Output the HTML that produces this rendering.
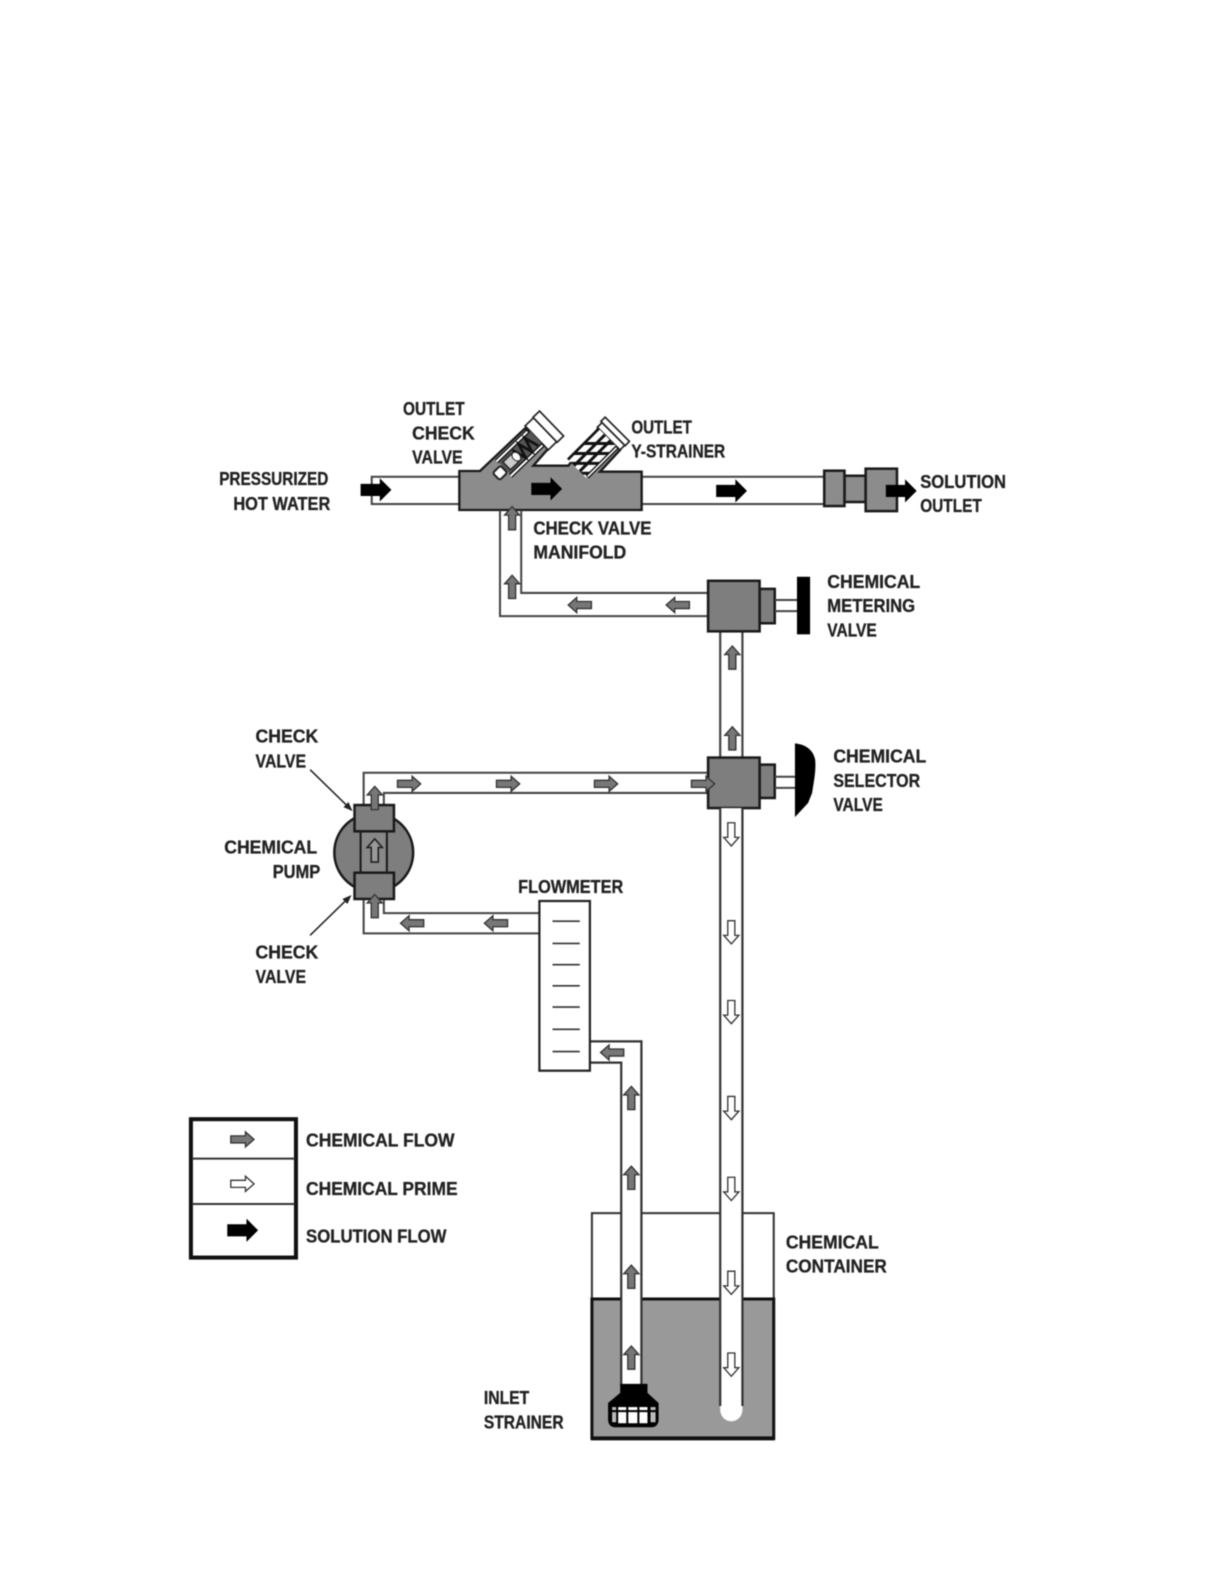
<!DOCTYPE html>
<html>
<head>
<meta charset="utf-8">
<style>
html,body{margin:0;padding:0;background:#fff;width:1224px;height:1584px;overflow:hidden}
svg{display:block;filter:blur(0.45px)}
text{font-family:"Liberation Sans",sans-serif;font-weight:bold;font-size:18px;fill:#222;stroke:#222;stroke-width:.3}
</style>
</head>
<body>
<svg xmlns="http://www.w3.org/2000/svg" width="1224" height="1584" viewBox="0 0 1224 1584">
<defs>
<path id="g" d="M-11.5,-3.5H3V-7.5L11.5,0L3,7.5V3.5H-11.5Z" fill="#777" stroke="#333" stroke-width="1.3"/>
<path id="w" d="M-11.5,-3.5H3V-7.5L11.5,0L3,7.5V3.5H-11.5Z" fill="#fff" stroke="#333" stroke-width="1.3"/>
<path id="p" d="M-11.5,-3.5H3V-7.5L11.5,0L3,7.5V3.5H-11.5Z" fill="#999" stroke="#222" stroke-width="1.6"/>
<path id="b" d="M-15,-6H4V-11.5L15.5,0L4,11.5V6H-15Z" fill="#000"/>
<clipPath id="c2"><rect x="0" y="-42" width="131" height="80"/></clipPath>
</defs>

<g transform="scale(1.0101)">
<!-- top pipes -->
<g fill="#fff" stroke="#444" stroke-width="2">
<rect x="368" y="472" width="90" height="27"/>
<rect x="634" y="472" width="184" height="27"/>
</g>
</g>

<!-- manifold and angled valves -->
<g transform="translate(350,390) scale(.33333)">
<path d="M328,243H390L525,115L600,170L550,227H655L745,115L810,180L750,245H875V360H328Z" fill="#8c8c8c" stroke="#1a1a1a" stroke-width="7"/>
<!-- outlet check valve -->
<g transform="translate(450,250) rotate(-44)">
<rect x="153" y="-50" width="35" height="100" fill="#fff" stroke="#222" stroke-width="5"/>
<rect x="188" y="-52" width="27" height="104" fill="#fff" stroke="#222" stroke-width="5"/>
<rect x="20" y="-30" width="133" height="56" fill="#555"/>
<path d="M17,-33H150M17,28H155" stroke="#111" stroke-width="14" fill="none"/>
<path d="M17,-33H146M17,28H150" stroke="#fff" stroke-width="6" fill="none"/>
<path d="M75,-24L88,20L101,-24L114,20L127,-24L140,20" fill="none" stroke="#111" stroke-width="8"/>
<rect x="30" y="-18" width="34" height="32" fill="#ccc" stroke="#222" stroke-width="4"/>
<ellipse cx="70" cy="-2" rx="11" ry="15" fill="#fff" stroke="#222" stroke-width="3"/>
<rect x="-15" y="-16" width="32" height="30" rx="7" fill="#fff" stroke="#222" stroke-width="6"/>
</g>
<!-- y strainer -->
<g transform="translate(682,237) rotate(-45)">
<rect x="131" y="-46" width="20" height="96" fill="#fff" stroke="#222" stroke-width="5"/>
<rect x="151" y="-51" width="18" height="103" fill="#fff" stroke="#222" stroke-width="5"/>
<rect x="0" y="-42" width="131" height="80" fill="#fff"/>
<g clip-path="url(#c2)">
<path d="M-60,-42L22,40M-18,-42L64,40M24,-42L106,40M66,-42L148,40M0,-14H131M0,10H131" fill="none" stroke="#111" stroke-width="9"/>
</g>
<path d="M0,-40H131" stroke="#111" stroke-width="8" fill="none"/>
<path d="M4,38H131" stroke="#111" stroke-width="13" fill="none"/>
<path d="M6,38H128" stroke="#fff" stroke-width="5" fill="none"/>
</g>
</g>

<g transform="scale(1.0101)">
<!-- fittings -->
<g fill="#8c8c8c" stroke="#1a1a1a" stroke-width="2.5">
<rect x="836" y="471" width="21" height="26"/>
<rect x="816" y="466" width="20" height="35"/>
<rect x="857" y="464" width="31" height="42"/>
</g>

<!-- return pipe from metering valve -->
<path d="M495,505V610H702M516,505V587H702" fill="none" stroke="#444" stroke-width="2"/>

<!-- vertical pipe -->
<path d="M713,625V750M735,625V750" fill="none" stroke="#444" stroke-width="2.2"/>

<!-- metering valve -->
<g stroke="#1a1a1a" stroke-width="2.5" fill="#7e7e7e">
<rect x="752" y="583" width="15" height="34"/>
<rect x="701" y="575" width="51" height="50"/>
</g>
<path d="M767,594H789M767,605H789" stroke="#444" stroke-width="2" fill="none"/>
<rect x="789" y="571" width="13" height="57" fill="#000"/>

<!-- pipe to pump -->
<path d="M702,765H360V797M702,785H380V797" fill="none" stroke="#444" stroke-width="2"/>

<!-- selector valve -->
<g stroke="#1a1a1a" stroke-width="2.5" fill="#7e7e7e">
<rect x="752" y="757" width="15" height="33"/>
<rect x="701" y="750" width="51" height="50"/>
</g>
<path d="M767,769H787M767,780H787" stroke="#444" stroke-width="2" fill="none"/>
<path d="M787,736C797,737 805,742 807,752C808,762 806,772 804,785L800,795L787,809Z" fill="#000"/>

<!-- pump -->
<circle cx="370" cy="844" r="39" fill="#7e7e7e" stroke="#1a1a1a" stroke-width="2.5"/>
<rect x="357" y="822" width="26" height="46" fill="#888" stroke="#1a1a1a" stroke-width="2"/>
<g stroke="#1a1a1a" stroke-width="2.5" fill="#7e7e7e">
<rect x="351" y="797" width="39" height="26"/>
<rect x="351" y="864" width="39" height="26"/>
</g>
<!-- leader lines -->
<path d="M307,762L346,800M307,926L345,889" stroke="#222" stroke-width="1.5" fill="none"/>
<path d="M349,803L340,799L345,794ZM348,886L339,890L344,895Z" fill="#222"/>

<!-- flowmeter pipe -->
<path d="M534,904H380V891M534,924H360V891" fill="none" stroke="#444" stroke-width="2"/>

<!-- chemical container -->
<rect x="586" y="1201" width="180" height="85" fill="#fff" stroke="#333" stroke-width="2"/>
<rect x="586" y="1286" width="180" height="138" fill="#999" stroke="#111" stroke-width="3"/>
<path d="M585,1424H767" stroke="#111" stroke-width="4"/>

<!-- down pipe -->
<path d="M713,800V1395C713,1411 735,1411 735,1395V800Z" fill="#fff"/>
<path d="M713,800V1392M735,800V1392" fill="none" stroke="#333" stroke-width="2.2"/>

<!-- inlet pipe -->
<path d="M615,1372V1052H584V1031H635V1372Z" fill="#fff"/>
<path d="M615,1372V1052H584M584,1031H635V1372" fill="none" stroke="#333" stroke-width="2.2"/>

<!-- flowmeter -->
<rect x="534" y="892" width="50" height="168" fill="#fff" stroke="#222" stroke-width="2.2"/>
<path d="M547,912H574M547,934H574M547,955H574M547,976H574M547,997H574M547,1019H574M547,1041H574" stroke="#333" stroke-width="1.6" fill="none"/>

<!-- inlet strainer -->
<path d="M614,1370H641V1379L652,1389V1405Q652,1413 644,1413H610Q602,1413 602,1405V1389L614,1379Z" fill="#000"/>
<g fill="#fff">
<rect x="606" y="1393" width="4" height="3" fill="#bbb"/><rect x="612" y="1393" width="8" height="3"/><rect x="622" y="1393" width="9" height="3"/><rect x="633" y="1393" width="8" height="3"/><rect x="644" y="1393" width="5" height="3" fill="#bbb"/>
<rect x="606" y="1398" width="4" height="10" fill="#bbb"/><rect x="612" y="1398" width="8" height="11"/><rect x="622" y="1398" width="9" height="11"/><rect x="633" y="1398" width="8" height="11"/><rect x="644" y="1398" width="5" height="10" fill="#bbb"/>
</g>

<!-- legend -->
<rect x="189" y="1108" width="104" height="137" fill="#fff" stroke="#111" stroke-width="4"/>
<path d="M190,1147H292M190,1192H292" stroke="#333" stroke-width="2" fill="none"/>

<!-- arrows -->
<use href="#b" x="372" y="485"/><use href="#b" x="541" y="484"/><use href="#b" x="724" y="486"/><use href="#b" x="892" y="486"/>
<use href="#g" x="405" y="776"/><use href="#g" x="503" y="776"/><use href="#g" x="600" y="776"/><use href="#g" x="696" y="776"/>
<g transform="translate(574,599) scale(-1,1)"><use href="#g"/></g>
<g transform="translate(671,599) scale(-1,1)"><use href="#g"/></g>
<g transform="translate(408,914) scale(-1,1)"><use href="#g"/></g>
<g transform="translate(491,914) scale(-1,1)"><use href="#g"/></g>
<g transform="translate(606,1042) scale(-1,1)"><use href="#g"/></g>
<g transform="translate(507,513) rotate(-90)"><use href="#g"/></g>
<g transform="translate(507,581) rotate(-90)"><use href="#g"/></g>
<g transform="translate(725,651) rotate(-90)"><use href="#g"/></g>
<g transform="translate(725,731) rotate(-90)"><use href="#g"/></g>
<g transform="translate(371,790) rotate(-90)"><use href="#g"/></g>
<g transform="translate(371,897) rotate(-90)"><use href="#g"/></g>
<g transform="translate(625,1087) rotate(-90)"><use href="#g"/></g>
<g transform="translate(625,1166) rotate(-90)"><use href="#g"/></g>
<g transform="translate(625,1264) rotate(-90)"><use href="#g"/></g>
<g transform="translate(625,1344) rotate(-90)"><use href="#g"/></g>
<g transform="translate(371,842) rotate(-90)"><use href="#p"/></g>
<g transform="translate(724,826) rotate(90)"><use href="#w"/></g>
<g transform="translate(724,923) rotate(90)"><use href="#w"/></g>
<g transform="translate(724,1002) rotate(90)"><use href="#w"/></g>
<g transform="translate(724,1097) rotate(90)"><use href="#w"/></g>
<g transform="translate(724,1177) rotate(90)"><use href="#w"/></g>
<g transform="translate(724,1270) rotate(90)"><use href="#w"/></g>
<g transform="translate(724,1351) rotate(90)"><use href="#w"/></g>
<use href="#g" x="240" y="1128"/><use href="#w" x="240" y="1172"/><use href="#b" x="240" y="1218"/>

<!-- labels -->
<text x="399" y="411" textLength="61" lengthAdjust="spacingAndGlyphs">OUTLET</text>
<text x="408" y="435" textLength="62" lengthAdjust="spacingAndGlyphs">CHECK</text>
<text x="408" y="459" textLength="50" lengthAdjust="spacingAndGlyphs">VALVE</text>
<text x="625" y="429" textLength="60" lengthAdjust="spacingAndGlyphs">OUTLET</text>
<text x="625" y="453" textLength="93" lengthAdjust="spacingAndGlyphs">Y-STRAINER</text>
<text x="217" y="480" textLength="108" lengthAdjust="spacingAndGlyphs">PRESSURIZED</text>
<text x="231" y="505" textLength="96" lengthAdjust="spacingAndGlyphs">HOT WATER</text>
<text x="911" y="483" textLength="85" lengthAdjust="spacingAndGlyphs">SOLUTION</text>
<text x="911" y="507" textLength="61" lengthAdjust="spacingAndGlyphs">OUTLET</text>
<text x="528" y="529" textLength="117" lengthAdjust="spacingAndGlyphs">CHECK VALVE</text>
<text x="528" y="553" textLength="92" lengthAdjust="spacingAndGlyphs">MANIFOLD</text>
<text x="819" y="582" textLength="92" lengthAdjust="spacingAndGlyphs">CHEMICAL</text>
<text x="819" y="606" textLength="87" lengthAdjust="spacingAndGlyphs">METERING</text>
<text x="819" y="630" textLength="49" lengthAdjust="spacingAndGlyphs">VALVE</text>
<text x="825" y="755" textLength="92" lengthAdjust="spacingAndGlyphs">CHEMICAL</text>
<text x="825" y="779" textLength="86" lengthAdjust="spacingAndGlyphs">SELECTOR</text>
<text x="825" y="803" textLength="49" lengthAdjust="spacingAndGlyphs">VALVE</text>
<text x="253" y="735" textLength="62" lengthAdjust="spacingAndGlyphs">CHECK</text>
<text x="253" y="760" textLength="50" lengthAdjust="spacingAndGlyphs">VALVE</text>
<text x="222" y="845" textLength="92" lengthAdjust="spacingAndGlyphs">CHEMICAL</text>
<text x="270" y="869" textLength="47" lengthAdjust="spacingAndGlyphs">PUMP</text>
<text x="513" y="884" textLength="104" lengthAdjust="spacingAndGlyphs">FLOWMETER</text>
<text x="253" y="949" textLength="62" lengthAdjust="spacingAndGlyphs">CHECK</text>
<text x="253" y="973" textLength="50" lengthAdjust="spacingAndGlyphs">VALVE</text>
<text x="303" y="1135" textLength="147" lengthAdjust="spacingAndGlyphs">CHEMICAL FLOW</text>
<text x="303" y="1183" textLength="150" lengthAdjust="spacingAndGlyphs">CHEMICAL PRIME</text>
<text x="303" y="1230" textLength="139" lengthAdjust="spacingAndGlyphs">SOLUTION FLOW</text>
<text x="778" y="1236" textLength="92" lengthAdjust="spacingAndGlyphs">CHEMICAL</text>
<text x="778" y="1260" textLength="100" lengthAdjust="spacingAndGlyphs">CONTAINER</text>
<text x="479" y="1390" textLength="45" lengthAdjust="spacingAndGlyphs">INLET</text>
<text x="479" y="1414" textLength="79" lengthAdjust="spacingAndGlyphs">STRAINER</text>
</g>
</svg>
</body>
</html>
